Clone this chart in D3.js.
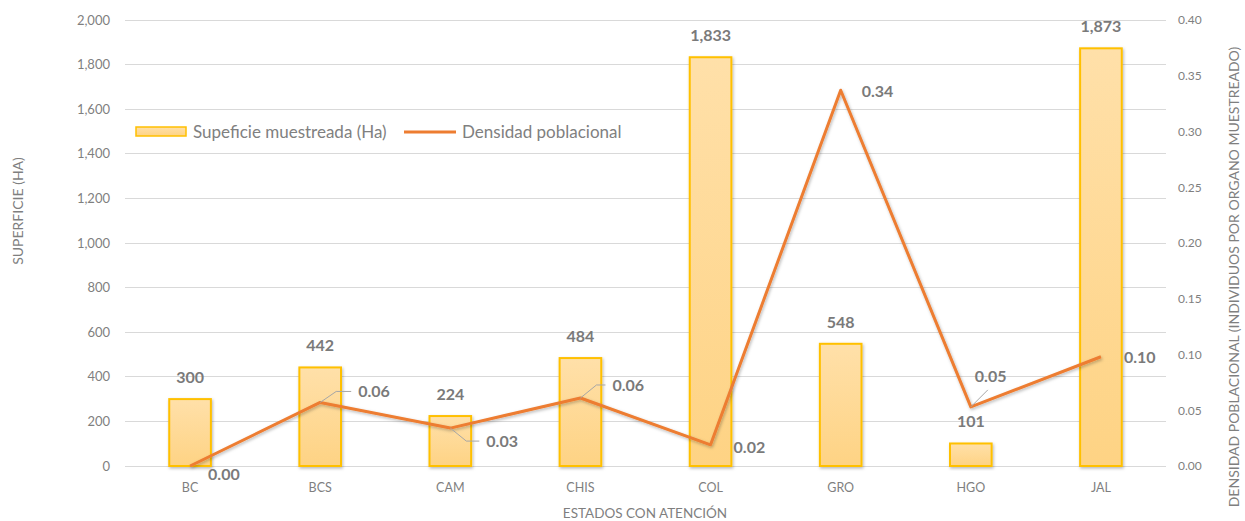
<!DOCTYPE html>
<html><head><meta charset="utf-8">
<script src="https://cdn.jsdelivr.net/npm/d3@7"></script>
<style>body{margin:0;background:#fff;} text{font-family:Lato, "Open Sans", sans-serif;}</style>
</head><body>
<svg id="c" width="1245" height="521"></svg>
<script>
const categories = ["BC","BCS","CAM","CHIS","COL","GRO","HGO","JAL"];
const superficie = [300,442,224,484,1833,548,101,1873];
const densidad = [0.00,0.057,0.034,0.061,0.019,0.337,0.053,0.098];
const densidadLabels = ["0.00","0.06","0.03","0.06","0.02","0.34","0.05","0.10"];
const leftTicks = [0,200,400,600,800,1000,1200,1400,1600,1800,2000];
const rightTicks = [0,0.05,0.10,0.15,0.20,0.25,0.30,0.35,0.40];
// label placement for line labels: [dx, dy, leader]
const lineLabelOffsets = [[18,8,0],[38,-11,1],[36,13,1],[32,-13,1],[23,2,0],[21,1,0],[4,-31,1],[23,1,0]];

const svg = d3.select("#c");
const L = 125, R = 1166, T = 20, B = 466;
const x = d3.scaleBand().domain(categories).range([L,R]).paddingInner(0.68).paddingOuter(0.34);
const yL = d3.scaleLinear().domain([0,2000]).range([B,T]);
const yR = d3.scaleLinear().domain([0,0.40]).range([B,T]);
const cx = d => x(d)+x.bandwidth()/2;

const defs = svg.append("defs");
const g = defs.append("linearGradient").attr("id","bg").attr("x1",0).attr("y1",0).attr("x2",0).attr("y2",1);
g.append("stop").attr("offset","0%").attr("stop-color","#FFE0A9");
g.append("stop").attr("offset","100%").attr("stop-color","#FED384");
const f = defs.append("filter").attr("id","sh").attr("x","-20%").attr("y","-20%").attr("width","140%").attr("height","140%");
f.append("feDropShadow").attr("dx",1).attr("dy",1.5).attr("stdDeviation",1.8).attr("flood-color","#000").attr("flood-opacity",0.28);

// gridlines
svg.append("g").selectAll("line").data(leftTicks).join("line")
  .attr("x1",L).attr("x2",R).attr("y1",d=>yL(d)).attr("y2",d=>yL(d))
  .attr("stroke","#d9d9d9").attr("stroke-width",1).attr("shape-rendering","crispEdges");

// left axis
const axL = svg.append("g").attr("transform",`translate(${L},0)`)
  .call(d3.axisLeft(yL).tickValues(leftTicks).tickFormat(d3.format(",")).tickSize(0).tickPadding(15));
axL.select(".domain").remove();
axL.selectAll("text").attr("fill","#7f7f7f").style("font-size","13px").style("font-family","Lato, sans-serif");

// right axis
const axR = svg.append("g").attr("transform",`translate(${R},0)`)
  .call(d3.axisRight(yR).tickValues(rightTicks).tickFormat(d3.format(".2f")).tickSize(0).tickPadding(12));
axR.select(".domain").remove();
axR.selectAll("text").attr("fill","#7f7f7f").style("font-size","12px").style("font-family","Lato, sans-serif");

// bottom axis
const axB = svg.append("g").attr("transform",`translate(0,${B})`)
  .call(d3.axisBottom(x).tickSize(0).tickPadding(17));
axB.select(".domain").remove();
axB.selectAll("text").attr("fill","#7f7f7f").style("font-size","12.5px").style("font-family","Lato, sans-serif");

// bars
svg.append("g").selectAll("rect").data(categories).join("rect")
  .attr("x",d=>x(d)).attr("width",x.bandwidth())
  .attr("y",(d,i)=>yL(superficie[i])).attr("height",(d,i)=>B-yL(superficie[i]))
  .attr("fill","url(#bg)").attr("stroke","#FFC000").attr("stroke-width",2).attr("filter","url(#sh)");

// bar labels
svg.append("g").selectAll("text").data(categories).join("text")
  .attr("x",d=>cx(d)).attr("y",(d,i)=>yL(superficie[i])-16)
  .attr("text-anchor","middle").attr("fill","#7a7a7a").style("font-size","16px").style("font-weight","bold")
  .text((d,i)=>d3.format(",")(superficie[i]));

// line
const line = d3.line().x((d,i)=>cx(categories[i])).y(d=>yR(d));
svg.append("path").datum(densidad).attr("d",line).attr("fill","none")
  .attr("stroke","#ED7D31").attr("stroke-width",3).attr("stroke-linejoin","round").attr("filter","url(#sh)");

// line labels with leaders
const lg = svg.append("g");
categories.forEach((c,i)=>{
  const px = cx(c), py = yR(densidad[i]);
  const [dx,dy,lead] = lineLabelOffsets[i];
  const tx = px+dx, ty = py+dy;
  if (lead) {
    let pts;
    if (i===6) pts = [[px,py],[px+17,py-17]];
    else pts = [[px,py],[px+16, ty],[tx-7, ty]];
    lg.append("polyline").attr("points",pts.map(p=>p.join(",")).join(" "))
      .attr("fill","none").attr("stroke","#a6a6a6").attr("stroke-width",1);
  }
  lg.append("text").attr("x",tx).attr("y",ty).attr("dy","0.36em")
    .attr("fill","#7a7a7a").style("font-size","16px").style("font-weight","bold")
    .text(densidadLabels[i]);
});

// legend
const leg = svg.append("g");
leg.append("rect").attr("x",136).attr("y",127).attr("width",50).attr("height",9)
  .attr("fill","url(#bg)").attr("stroke","#FFC000").attr("stroke-width",1.5);
leg.append("text").attr("x",193).attr("y",132).attr("dy","0.36em").attr("fill","#808080")
  .style("font-size","17px").text("Supeficie muestreada (Ha)");
leg.append("line").attr("x1",404).attr("x2",456).attr("y1",132).attr("y2",132)
  .attr("stroke","#ED7D31").attr("stroke-width",3);
leg.append("text").attr("x",462).attr("y",132).attr("dy","0.36em").attr("fill","#808080")
  .style("font-size","17px").text("Densidad poblacional");

// axis titles
svg.append("text").attr("x",645).attr("y",518).attr("text-anchor","middle").attr("fill","#7f7f7f")
  .style("font-size","13.5px").text("ESTADOS CON ATENCIÓN");
svg.append("text").attr("transform","translate(18,211) rotate(-90)").attr("dy","0.36em").attr("text-anchor","middle").attr("fill","#7f7f7f")
  .style("font-size","14px").text("SUPERFICIE (HA)");
svg.append("text").attr("transform","translate(1234,277) rotate(-90)").attr("dy","0.36em").attr("text-anchor","middle").attr("fill","#7f7f7f")
  .style("font-size","14px").text("DENSIDAD POBLACIONAL (INDIVIDUOS POR ORGANO  MUESTREADO)");
</script>
</body></html>
